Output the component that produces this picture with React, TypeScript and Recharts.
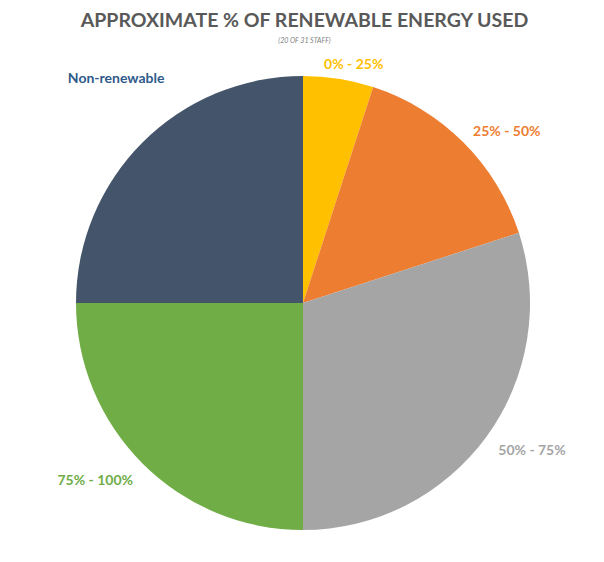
import { PieChart, Pie, Cell } from 'recharts';

const categories = ['0% - 25%', '25% - 50%', '50% - 75%', '75% - 100%', 'Non-renewable'];
const staffCounts = [1, 3, 6, 5, 5];
const sliceColors = ['#FFC000', '#ED7D31', '#A5A5A5', '#70AD47', '#44546A'];
const labelColors = ['#FFC000', '#ED7D31', '#A5A5A5', '#70AD47', '#2F5A8A'];

const chartData = categories.map((name, i) => ({ name, value: staffCounts[i] }));

// small per-label nudges so labels sit where the original put them
const labelNudge = [
  [9, 24],
  [15, 16],
  [13, -10],
  [-19, -12],
  [2, -37],
];

const RADIAN = Math.PI / 180;
const FONT = 'Lato, "Open Sans", sans-serif';

function renderLabel(props: any) {
  const { cx, cy, midAngle, outerRadius, index } = props;
  const r = outerRadius + 40;
  const x = cx + r * Math.cos(-midAngle * RADIAN) + labelNudge[index][0];
  const y = cy + r * Math.sin(-midAngle * RADIAN) + labelNudge[index][1];
  return (
    <text
      x={x}
      y={y}
      fill={labelColors[index]}
      textAnchor="middle"
      dominantBaseline="central"
      fontFamily={FONT}
      fontWeight={700}
      fontSize={14}
    >
      {categories[index]}
    </text>
  );
}

export default function App() {
  return (
    <div style={{ position: 'fixed', left: 0, top: 0, width: 604, height: 562, background: '#fff', fontFamily: FONT }}>
      <div
        style={{
          position: 'absolute',
          top: 8,
          left: 0,
          width: 609,
          textAlign: 'center',
          fontSize: 19.5,
          fontWeight: 700,
          color: '#595959',
          lineHeight: '24px',
        }}
      >
        APPROXIMATE % OF RENEWABLE ENERGY USED
      </div>
      <div
        style={{
          position: 'absolute',
          top: 36,
          left: 0,
          width: 609,
          textAlign: 'center',
          fontSize: 7,
          fontStyle: 'italic',
          color: '#7F7F7F',
          lineHeight: '8px',
        }}
      >
        (20 OF 31 STAFF)
      </div>
      <PieChart
        width={604}
        height={562}
        margin={{ top: 0, right: 0, bottom: 0, left: 0 }}
        style={{ position: 'absolute', left: 0, top: 0 }}
      >
        <Pie
          data={chartData}
          dataKey="value"
          nameKey="name"
          cx={303}
          cy={303}
          outerRadius={227}
          startAngle={90}
          endAngle={-270}
          stroke="none"
          label={renderLabel}
          labelLine={false}
          isAnimationActive={false}
        >
          {chartData.map((d, i) => (
            <Cell key={d.name} fill={sliceColors[i]} />
          ))}
        </Pie>
      </PieChart>
    </div>
  );
}
